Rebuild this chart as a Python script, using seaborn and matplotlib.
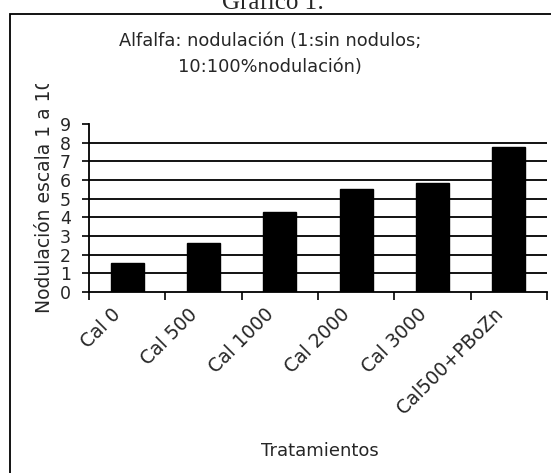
import pandas as pd
import matplotlib.pyplot as plt
import seaborn as sns
from matplotlib.transforms import Bbox, ScaledTranslation
from matplotlib.patches import Rectangle

# data
tratamientos = ["Cal 0", "Cal 500", "Cal 1000", "Cal 2000", "Cal 3000", "Cal500+PBoZn"]
nodulacion = [1.55, 2.62, 4.3, 5.5, 5.83, 7.77]
tick_labels = ["Cal 0", "Cal 500", "Cal 1000", "Cal 2000", "Cal 3000", "Cal500+PBoZn"]

df = pd.DataFrame({"Tratamientos": tratamientos, "Nodulacion": nodulacion})

sns.set_theme(style="white")
plt.rcParams['font.family'] = ['DejaVu Sans']

W, H = 551, 473
fig = plt.figure(figsize=(5.51, 4.73), dpi=100)
ax = fig.add_axes([89 / W, 1 - 292 / H, 458 / W, 168 / H])

sns.barplot(x="Tratamientos", y="Nodulacion", data=df, color="black",
            width=0.43, edgecolor="black", saturation=1, ax=ax, zorder=3)
ax.set_ylabel("")
ax.set_xlabel("")

ax.set_ylim(0, 9)
ax.set_xlim(-0.5, len(tratamientos) - 0.5)
ax.set_yticks(range(0, 10))
ax.tick_params(axis="y", labelsize=12.5, length=5, width=1.2, color="black", pad=8,
               direction="out", left=True)
for v in range(1, 9):
    ax.axhline(v, color="black", lw=1.3, zorder=1)

# category ticks sit between the bars
ax.set_xticks([i - 0.5 for i in range(len(tratamientos) + 1)], minor=True)
ax.tick_params(axis="x", which="minor", length=6, width=1.2, color="black", direction="out", bottom=True)
ax.set_xticks(range(len(tratamientos)))
ax.set_xticklabels(tick_labels, rotation=45, ha="right", va="center", rotation_mode="anchor", fontsize=13.5)
ax.tick_params(axis="x", which="major", length=0, pad=14)
shift = ScaledTranslation(-9 / 100, 0, fig.dpi_scale_trans)
for lab in ax.get_xticklabels():
    lab.set_transform(lab.get_transform() + shift)

for s in ["top", "right"]:
    ax.spines[s].set_visible(False)
for s in ["left", "bottom"]:
    ax.spines[s].set_color("black")
    ax.spines[s].set_linewidth(1.3)

fig.text(320 / W, 1 - 451 / H, "Tratamientos", ha="center", va="center", fontsize=13)

yl = fig.text(45 / W, 1 - 313 / H, "Nodulación escala 1 a 10", rotation=90,
              ha="left", va="center", rotation_mode="anchor", fontsize=13.5)
yl.set_clip_box(Bbox.from_extents(0, 0, W, H - 84))
yl.set_clip_on(True)

fig.text(270 / W, 1 - 54 / H, "Alfalfa: nodulación (1:sin nodulos;\n10:100%nodulación)",
         ha="center", va="center", fontsize=12.8, linespacing=1.5)

fig.text(273 / W, 1 - 9 / H, "Gráfico 1:", ha="center", va="baseline",
         fontsize=18, family=["Liberation Serif", "DejaVu Serif"])

fig.patches.append(Rectangle((10 / W, -0.1), 1.0, 1 - 14 / H + 0.1, transform=fig.transFigure,
                             fill=False, edgecolor="black", lw=1.3))

fig.savefig("out.png", dpi=100)
